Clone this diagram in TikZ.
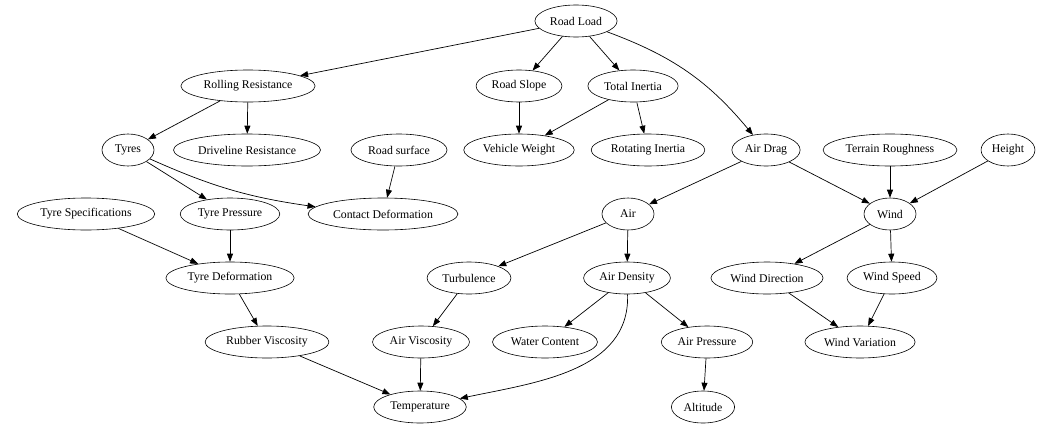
\documentclass[tikz,border=0pt]{standalone}
\usepackage{fontspec}
\setmainfont{Liberation Serif}
\usetikzlibrary{arrows.meta,shapes.geometric}

\begin{document}
\begin{tikzpicture}[x=1pt,y=-1pt]
	\tikzset{factor/.style={draw,ellipse,line width=0.6pt,inner xsep=3pt,inner ysep=0pt,minimum height=32pt,minimum width=52pt,font=\fontsize{11.8}{13}\selectfont}}
	\tikzset{every edge/.append style={-{Triangle[length=8pt,width=6pt]}}}
	\useasboundingbox (0,0) rectangle (1048,423);

	%% top rows
	\node[factor] (rl) at (576,21) {Road Load};
	\node[factor] (rr) at (248,86) {Rolling Resistance};
	\node[factor] (rs) at (519,86) {Road Slope};
	\node[factor] (ti) at (633,86) {Total Inertia};
	\node[factor] (ty) at (128,150) {Tyres};
	\node[factor] (dr) at (247,150) {Driveline Resistance};
	\node[factor] (su) at (399,150) {Road surface};
	\node[factor] (vw) at (519,150) {Vehicle Weight};
	\node[factor] (ri) at (648,150) {Rotating Inertia};
	\node[factor] (ad) at (766,150) {Air Drag};
	\node[factor] (tr) at (890,150) {Terrain Roughness};
	\node[factor] (he) at (1008,150) {Height};
	\node[factor] (ts) at (86,214) {Tyre Specifications};
	\node[factor] (tp) at (230,214) {Tyre Pressure};
	\node[factor] (cd) at (383,214) {Contact Deformation};
	\node[factor] (ai) at (628,214) {Air};
	\node[factor] (wi) at (890,214) {Wind};

	%% bottom rows
	\node[factor] (td) at (230,278) {Tyre Deformation};
	\node[factor] (tu) at (469,278) {Turbulence};
	\node[factor] (de) at (627,278) {Air Density};
	\node[factor] (wd) at (767,278) {Wind Direction};
	\node[factor] (ws) at (892,278) {Wind Speed};
	\node[factor] (rv) at (267,342) {Rubber Viscosity};
	\node[factor] (av) at (421,342) {Air Viscosity};
	\node[factor] (wc) at (545,342) {Water Content};
	\node[factor] (ap) at (707,342) {Air Pressure};
	\node[factor] (wv) at (860,342) {Wind Variation};
	\node[factor] (te) at (420,407) {Temperature};
	\node[factor] (al) at (703,407) {Altitude};

	\path[line width=0.7pt]
		(rl) edge (rr)
		(rl) edge (rs)
		(rl) edge (ti)
		(rl) edge[bend left=15] (ad)
		(rr) edge (ty)
		(rr) edge (dr)
		(rs) edge (vw)
		(ti) edge (vw)
		(ti) edge (ri)
		(ty) edge (tp)
		(ty) edge[bend right=8] (cd)
		(su) edge (cd)
		(ad) edge (ai)
		(ad) edge (wi)
		(tr) edge (wi)
		(he) edge (wi)
		(ts) edge (td)
		(tp) edge (td)
		(ai) edge (tu)
		(ai) edge (de)
		(wi) edge (wd)
		(wi) edge (ws)
		(td) edge (rv)
		(tu) edge (av)
		(de) edge (wc)
		(de) edge (ap)
		(de) edge[out=-88,in=12] (te)
		(wd) edge (wv)
		(ws) edge (wv)
		(rv) edge (te)
		(av) edge (te)
		(ap) edge (al);
\end{tikzpicture}
\end{document}
